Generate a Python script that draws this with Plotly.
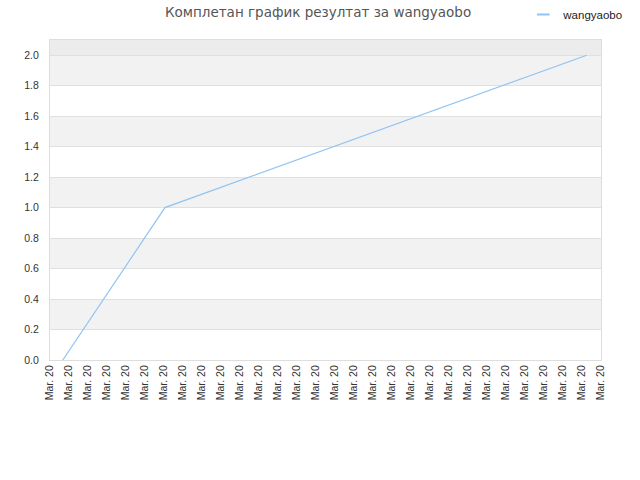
import plotly.graph_objects as go

# data
times = ["2020-03-20 00:27", "2020-03-20 04:02", "2020-03-20 18:50"]
scores = [0, 1, 2]
player = "wangyaobo"
title = "Комплетан график резултат за wangyaobo"

line_color = "#92c3f3"

fig = go.Figure()
fig.add_trace(go.Scatter(
    x=times,
    y=scores,
    mode="lines",
    name=player,
    showlegend=False,
    line=dict(color=line_color, width=1.2),
))
# legend entry with a short dash like the original
fig.add_trace(go.Scatter(
    x=[None], y=[None],
    mode="markers",
    name=player,
    marker=dict(symbol="line-ew-open", size=9, color=line_color,
                line=dict(color=line_color, width=2)),
))

# alternating background bands
shapes = []
for i in range(10):
    if i % 2 == 1:
        shapes.append(dict(type="rect", xref="paper", yref="y", x0=0, x1=1,
                           y0=i * 0.2, y1=i * 0.2 + 0.2,
                           fillcolor="#f2f2f2", line_width=0, layer="below"))
shapes.append(dict(type="rect", xref="paper", yref="y", x0=0, x1=1,
                   y0=2.0, y1=2.1, fillcolor="#ececec", line_width=0, layer="below"))

fig.update_layout(
    width=640, height=480,
    margin=dict(l=50, r=39, t=40, b=120, autoexpand=False),
    paper_bgcolor="white",
    plot_bgcolor="white",
    font=dict(family="Liberation Sans", size=11, color="#333"),
    title=dict(text=title, x=0.497, xanchor="center", yref="container",
               y=1 - 12 / 480, yanchor="middle",
               font=dict(family="DejaVu Sans", size=13.5, color="#555")),
    showlegend=True,
    legend=dict(x=0.859, xanchor="left", y=1.08, yanchor="middle",
                font=dict(size=11.5, color="#222"), bgcolor="rgba(0,0,0,0)"),
    shapes=shapes,
)
fig.update_xaxes(
    type="date",
    range=["2020-03-20 00:00", "2020-03-20 19:20"],
    tick0="2020-03-20 00:00",
    dtick=40 * 60 * 1000,
    tickformat="%b. %d",
    tickangle=-90,
    showgrid=False,
    showline=True, linecolor="#ddd", mirror=True,
    ticks="", tickfont=dict(size=10.5, color="#333"),
)
fig.update_yaxes(
    range=[0, 2.1],
    dtick=0.2,
    tickformat=".1f",
    showgrid=True, gridcolor="#e0e0e0",
    showline=True, linecolor="#ddd", mirror=True,
    zeroline=False,
    ticklabelstandoff=8,
    tickfont=dict(size=10.5, color="#333"),
)

fig.write_html("out.html", config={"displayModeBar": False},
               post_script="document.body.style.margin='0';")
